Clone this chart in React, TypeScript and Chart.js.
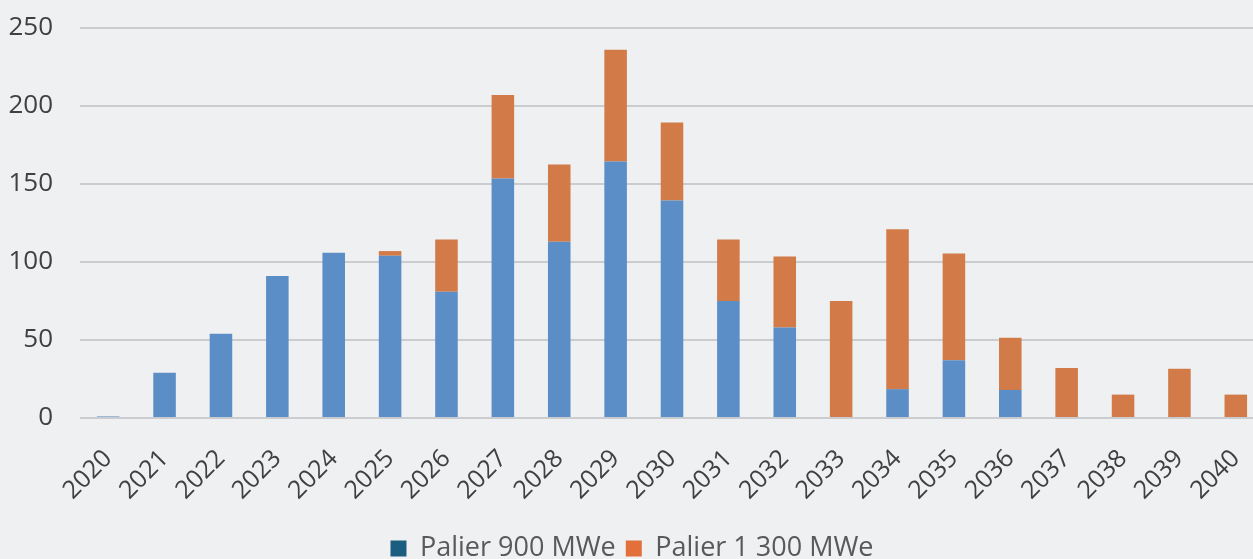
import React, { useEffect, useRef } from "react";
import { Chart, registerables } from "chart.js";

Chart.register(...registerables);

const years = [
  "2020", "2021", "2022", "2023", "2024", "2025", "2026", "2027", "2028", "2029", "2030",
  "2031", "2032", "2033", "2034", "2035", "2036", "2037", "2038", "2039", "2040",
];
const palier900 = [1, 29, 54, 91, 106, 104, 81, 153.5, 113, 164.5, 139.5, 75, 58, 0, 18.5, 37, 18, 0, 0, 0, 0];
const palier1300 = [0, 0, 0, 0, 0, 3, 33.5, 53.5, 49.5, 71.5, 50, 39.5, 45.5, 75, 102.5, 68.5, 33.5, 32, 15, 31.5, 15];
const seriesNames = ["Palier 900 MWe", "Palier 1 300 MWe"];
const yTicks = [0, 50, 100, 150, 200, 250];

const BAR_BLUE = "#5b8ec6";
const BAR_ORANGE = "#d27b48";
const LEGEND_BLUE = "#1a5d7f";
const LEGEND_ORANGE = "#e36f3a";
const FONT = "'Open Sans', 'Noto Sans', sans-serif";

export default function App() {
  const ref = useRef<HTMLCanvasElement | null>(null);

  useEffect(() => {
    if (!ref.current) return;
    document.body.style.margin = "0";
    document.body.style.background = "#eff0f2";
    const chart = new Chart(ref.current, {
      type: "bar",
      data: {
        labels: years,
        datasets: [
          {
            label: seriesNames[0],
            data: palier900,
            backgroundColor: BAR_BLUE,
            borderWidth: 0,
            barPercentage: 0.4,
            categoryPercentage: 1,
          },
          {
            label: seriesNames[1],
            data: palier1300,
            backgroundColor: BAR_ORANGE,
            borderWidth: 0,
            barPercentage: 0.4,
            categoryPercentage: 1,
          },
        ],
      },
      options: {
        responsive: false,
        animation: false,
        layout: { padding: { top: 28, right: 6, left: 0, bottom: 0 } },
        plugins: {
          tooltip: { enabled: false },
          legend: {
            position: "bottom",
            labels: {
              font: { family: FONT, size: 27 },
              color: "#595959",
              boxWidth: 16,
              boxHeight: 16,
              padding: 10,
              generateLabels: () => [
                { text: seriesNames[0], fillStyle: LEGEND_BLUE, strokeStyle: LEGEND_BLUE, lineWidth: 0, hidden: false, datasetIndex: 0, fontColor: "#595959" },
                { text: seriesNames[1], fillStyle: LEGEND_ORANGE, strokeStyle: LEGEND_ORANGE, lineWidth: 0, hidden: false, datasetIndex: 1, fontColor: "#595959" },
              ],
            },
          },
        },
        scales: {
          x: {
            stacked: true,
            grid: { display: false },
            border: { display: false },
            ticks: {
              color: "#404040",
              font: { family: FONT, size: 25 },
              minRotation: 45,
              maxRotation: 45,
              padding: 18,
            },
            afterFit: (scale: any) => {
              scale.height = 107;
              scale.paddingTop = 0;
              scale.paddingLeft = 0;
              scale.paddingRight = 0;
            },
          },
          y: {
            stacked: true,
            min: 0,
            max: 250,
            afterBuildTicks: (scale: any) => {
              scale.ticks = yTicks.map((v) => ({ value: v }));
            },
            grid: { color: "#cbcccf", lineWidth: 2, drawTicks: false },
            border: { display: false },
            ticks: {
              color: "#404040",
              font: { family: FONT, size: 26 },
              padding: 27,
            },
            afterFit: (scale: any) => {
              scale.width = 80;
              scale.paddingTop = 0;
              scale.paddingBottom = 0;
            },
          },
        },
      },
    });
    return () => chart.destroy();
  }, []);

  return (
    <div
      style={{
        position: "fixed",
        left: 0,
        top: 0,
        width: 1253,
        height: 559,
        overflow: "hidden",
        background: "#eff0f2",
      }}
    >
      <canvas ref={ref} width={1270} height={572} style={{ display: "block" }} />
    </div>
  );
}
